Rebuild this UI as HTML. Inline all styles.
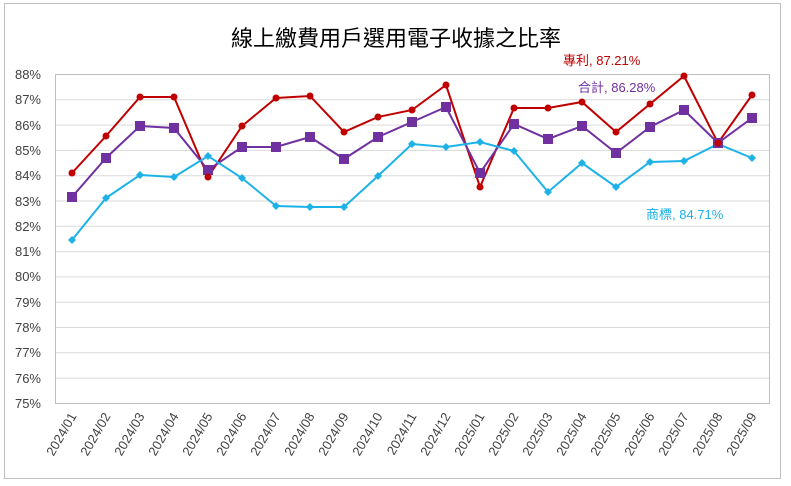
<!DOCTYPE html>
<html><head><meta charset="utf-8"><style>
body{margin:0;background:#fff}
svg{display:block;font-family:"Liberation Sans","Noto Sans CJK TC",sans-serif}
</style></head><body>
<svg width="791" height="486" viewBox="0 0 791 486">
<rect x="4.5" y="3.5" width="776" height="475" fill="#fff" stroke="#bfbfbf"/>
<text x="396" y="46" text-anchor="middle" font-size="22" fill="#000" font-family="'Noto Sans CJK TC',sans-serif">線上繳費用戶選用電子收據之比率</text>
<g stroke="#d9d9d9" stroke-width="1">
<line x1="55" x2="770" y1="74.5" y2="74.5"/><line x1="55" x2="770" y1="99.8" y2="99.8"/><line x1="55" x2="770" y1="125.1" y2="125.1"/><line x1="55" x2="770" y1="150.4" y2="150.4"/><line x1="55" x2="770" y1="175.7" y2="175.7"/><line x1="55" x2="770" y1="201" y2="201"/><line x1="55" x2="770" y1="226.3" y2="226.3"/><line x1="55" x2="770" y1="251.6" y2="251.6"/><line x1="55" x2="770" y1="276.9" y2="276.9"/><line x1="55" x2="770" y1="302.2" y2="302.2"/><line x1="55" x2="770" y1="327.5" y2="327.5"/><line x1="55" x2="770" y1="352.8" y2="352.8"/><line x1="55" x2="770" y1="378.1" y2="378.1"/>
</g>
<rect x="55.5" y="74.5" width="714" height="329" fill="none" stroke="#bfbfbf"/>
<g font-size="13" fill="#404040" text-anchor="end">
<text x="41" y="79">88%</text><text x="41" y="104">87%</text><text x="41" y="130">86%</text><text x="41" y="155">85%</text><text x="41" y="180">84%</text><text x="41" y="206">83%</text><text x="41" y="231">82%</text><text x="41" y="256">81%</text><text x="41" y="281">80%</text><text x="41" y="307">79%</text><text x="41" y="332">78%</text><text x="41" y="357">77%</text><text x="41" y="383">76%</text><text x="41" y="408">75%</text>
</g>
<g font-size="13" fill="#404040" text-anchor="end" id="xl"></g>
<polyline id="pr" fill="none" stroke="#c00000" stroke-width="2"/>
<polyline id="pp" fill="none" stroke="#7030a0" stroke-width="2"/>
<polyline id="pb" fill="none" stroke="#1cb2e8" stroke-width="2"/>
<g id="m"></g>
<text x="563" y="65" font-size="13" fill="#c00000">專利, 87.21%</text>
<text x="578" y="92" font-size="13" fill="#7030a0">合計, 86.28%</text>
<text x="646" y="219" font-size="13" fill="#1cb2e8">商標, 84.71%</text>
</svg>
<script>
var ns="http://www.w3.org/2000/svg";
var labs=[];for(var y=2024;y<=2025;y++)for(var m=1;m<=12;m++){if(y==2025&&m>9)break;labs.push(y+"/"+(m<10?"0"+m:m));}
var g=document.getElementById("xl");
labs.forEach(function(l,i){var x=72+34*i+5,t=document.createElementNS(ns,"text");t.setAttribute("x",x);t.setAttribute("y",416);t.setAttribute("transform","rotate(-60 "+x+" 416)");t.textContent=l;g.appendChild(t);});
var mg=document.getElementById("m");
var R=[173,136,97,97,177,126,98,96,132,117,110,85,187,108,108,102,132,104,76,143,95],
P=[197,158,126,128,170,147,147,137,159,137,122,107,173,124,139,126,153,127,110,143,118],
B=[240,198,175,177,156,178,206,207,207,176,144,147,142,151,192,163,187,162,161,144,158];
function pts(a){return a.map(function(v,i){return (72+34*i)+","+v}).join(" ");}
document.getElementById("pr").setAttribute("points",pts(R));
document.getElementById("pp").setAttribute("points",pts(P));
document.getElementById("pb").setAttribute("points",pts(B));
function add(tag,a){var e=document.createElementNS(ns,tag);for(var k in a)e.setAttribute(k,a[k]);mg.appendChild(e);}
for(var i=0;i<21;i++){var x=72+34*i;
add("polygon",{points:(x)+","+(B[i]-4)+" "+(x+4)+","+B[i]+" "+x+","+(B[i]+4)+" "+(x-4)+","+B[i],fill:"#1cb2e8"});
add("rect",{x:x-5,y:P[i]-5,width:10,height:10,fill:"#7030a0"});
add("circle",{cx:x,cy:R[i],r:3.5,fill:"#c00000"});}
</script>
</body></html>
